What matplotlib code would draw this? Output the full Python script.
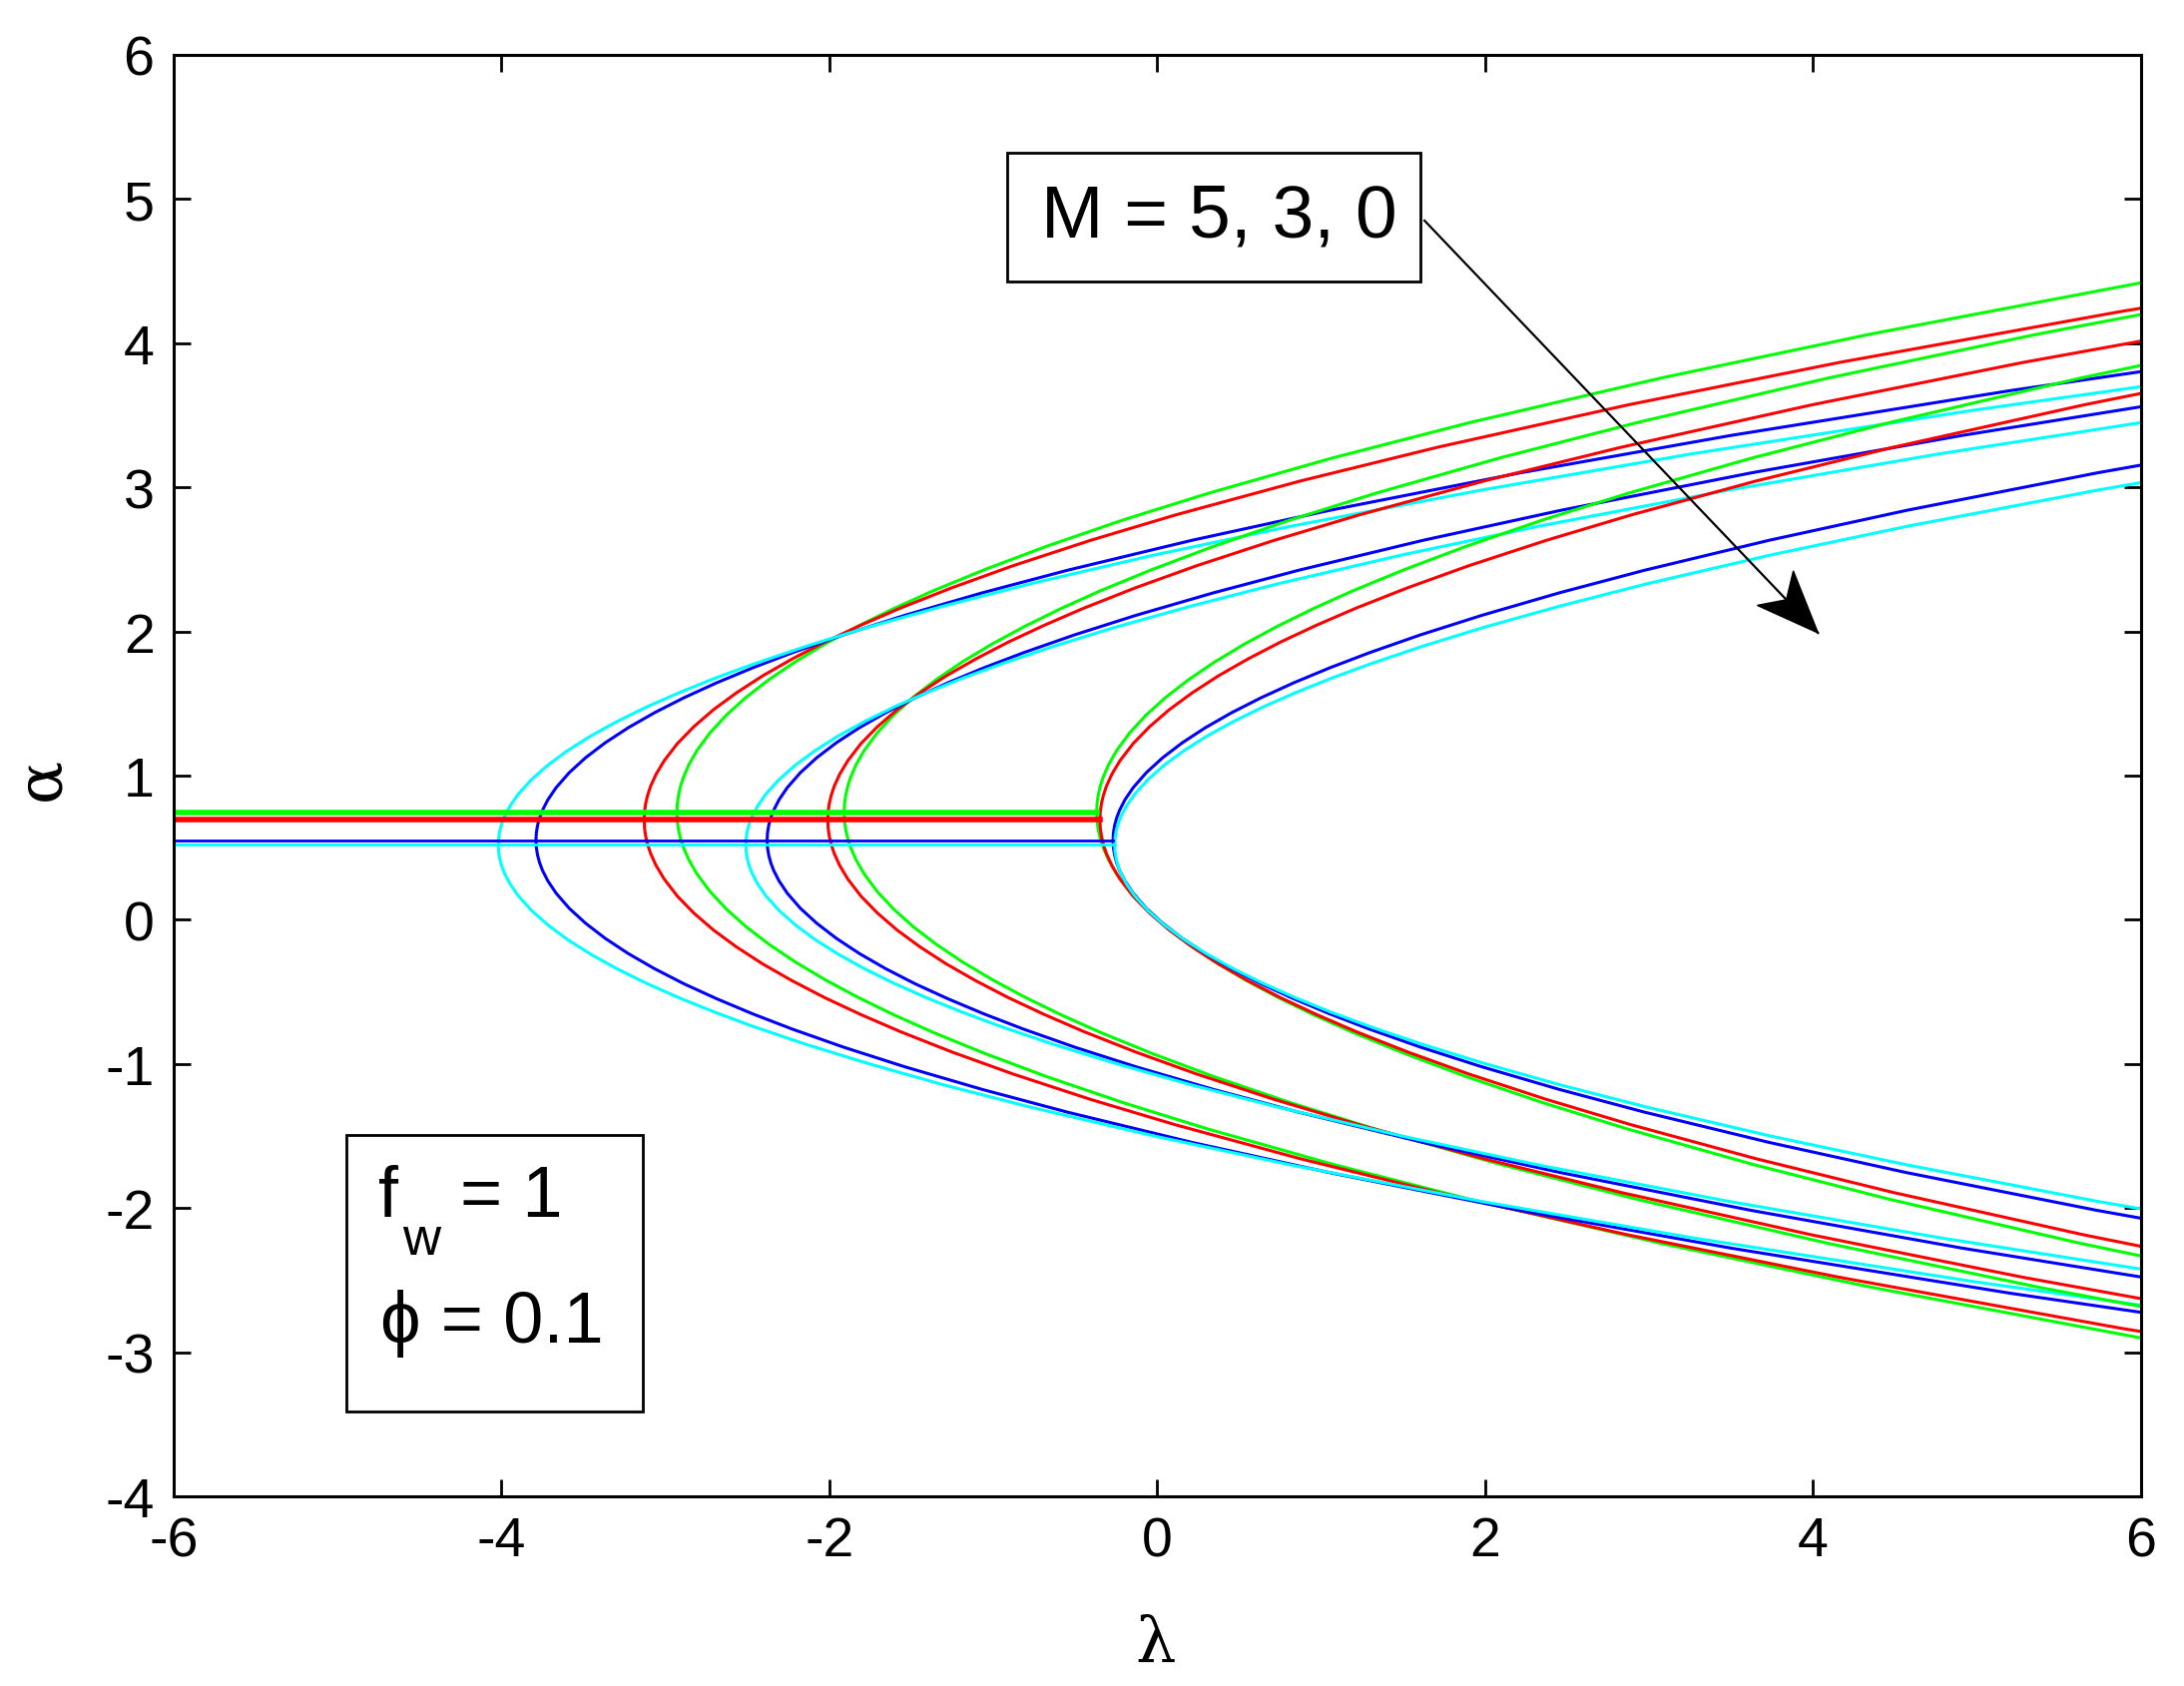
import matplotlib

matplotlib.use("Agg")
import matplotlib.pyplot as plt
import numpy as np
from matplotlib.patches import Polygon, Rectangle
from matplotlib.transforms import Affine2D, IdentityTransform

plt.rcParams["font.family"] = ["Liberation Sans", "DejaVu Sans"]
plt.rcParams["axes.unicode_minus"] = False

GREEN = "#00ff00"
RED = "#ff0000"
BLUE = "#0000ff"
CYAN = "#00ffff"

# distance in lambda from the turning point, shared by every curve
delta = [0, 0.0025, 0.01, 0.0225, 0.04, 0.0729, 0.1225, 0.2025, 0.3025, 0.4225,
         0.5625, 0.7225, 0.9025, 1.1025, 1.3225, 1.5625, 1.8769, 2.25, 2.7225, 3.24,
         4.0, 4.84, 6.0025, 7.29, 9.0, 10.89]

# alpha on the upper / lower branch at those distances, per colour
up_green = [0.744, 0.806, 0.867, 0.929, 0.990, 1.076, 1.175, 1.298, 1.421, 1.544,
            1.667, 1.790, 1.913, 2.036, 2.159, 2.282, 2.429, 2.589, 2.774, 2.958,
            3.204, 3.450, 3.758, 4.065, 4.434, 4.803]
lo_green = [0.744, 0.683, 0.622, 0.561, 0.500, 0.415, 0.317, 0.195, 0.073, -0.049,
            -0.171, -0.293, -0.415, -0.537, -0.659, -0.781, -0.927, -1.086, -1.269, -1.452,
            -1.696, -1.940, -2.245, -2.550, -2.916, -3.282]
up_red = [0.693, 0.752, 0.811, 0.869, 0.928, 1.010, 1.104, 1.222, 1.339, 1.457,
          1.574, 1.692, 1.809, 1.927, 2.044, 2.162, 2.303, 2.456, 2.632, 2.808,
          3.043, 3.278, 3.572, 3.866, 4.218, 4.571]
lo_red = [0.693, 0.634, 0.575, 0.517, 0.458, 0.376, 0.282, 0.164, 0.047, -0.071,
          -0.188, -0.306, -0.423, -0.541, -0.658, -0.776, -0.917, -1.070, -1.246, -1.422,
          -1.657, -1.892, -2.186, -2.480, -2.832, -3.185]
up_blue = [0.552, 0.604, 0.656, 0.708, 0.760, 0.833, 0.916, 1.020, 1.124, 1.228,
           1.332, 1.436, 1.540, 1.644, 1.748, 1.852, 1.977, 2.112, 2.268, 2.424,
           2.632, 2.840, 3.100, 3.360, 3.672, 3.984]
lo_blue = [0.552, 0.500, 0.447, 0.395, 0.342, 0.269, 0.185, 0.080, -0.024, -0.129,
           -0.234, -0.339, -0.444, -0.548, -0.653, -0.758, -0.884, -1.020, -1.177, -1.334,
           -1.544, -1.754, -2.016, -2.278, -2.592, -2.906]
up_cyan = [0.520, 0.570, 0.621, 0.671, 0.721, 0.791, 0.872, 0.972, 1.073, 1.173,
           1.274, 1.374, 1.475, 1.575, 1.676, 1.776, 1.897, 2.028, 2.178, 2.329,
           2.530, 2.731, 2.982, 3.234, 3.535, 3.837]
lo_cyan = [0.520, 0.469, 0.419, 0.368, 0.318, 0.247, 0.166, 0.065, -0.036, -0.137,
           -0.238, -0.339, -0.440, -0.541, -0.642, -0.743, -0.864, -0.995, -1.147, -1.298,
           -1.500, -1.702, -1.955, -2.207, -2.510, -2.813]

# turning point lambda for green, red, blue, cyan
turn_m5 = [-2.93, -3.13, -3.79, -4.02]
turn_m3 = [-1.91, -2.01, -2.38, -2.51]
turn_m0 = [-0.37, -0.35, -0.27, -0.26]

# flat lines on the left, one per colour, ending at the M = 0 turning point
flat_alpha = [0.744, 0.693, 0.552, 0.520]
flat_width = [2.0, 2.0, 1.0, 1.0]


def main() -> None:
    fig = plt.figure(figsize=(10.94, 8.45), dpi=200)
    ax = fig.add_axes([0.0795, 0.1124, 0.9008, 0.8545])
    ax.set_xlim(-6, 6)
    ax.set_ylim(-4, 6)

    colors = [GREEN, RED, BLUE, CYAN]
    branches = [(up_green, lo_green), (up_red, lo_red), (up_blue, lo_blue), (up_cyan, lo_cyan)]
    xs = delta[::-1] + delta[1:]
    for turns in (turn_m5, turn_m3, turn_m0):
        for color, (up, lo), turn in zip(colors, branches, turns):
            shift = Affine2D().translate(turn, 0) + ax.transData
            ax.plot(xs, lo[::-1] + up[1:], color=color, lw=1.1, transform=shift)

    for color, a, end, w in zip(colors, flat_alpha, turn_m0, flat_width):
        ax.plot([-6, end], [a, a], color=color, lw=w)

    ax.set_xticks(range(-6, 7, 2))
    ax.set_yticks(range(-4, 7))
    ax.tick_params(direction="in", top=True, right=True, length=6, width=1.0,
                   labelsize=20, pad=7)
    for spine in ax.spines.values():
        spine.set_linewidth(1.1)

    fig.text(0.529, 0.0254, "λ", fontsize=23, family="DejaVu Serif", ha="center", va="center")
    fig.text(0.0192, 0.538, "α", fontsize=23, family="DejaVu Serif", ha="center", va="center",
             rotation=90)

    # M annotation with arrow
    ax.add_patch(Rectangle((-0.916, 4.428), 2.52, 0.893, facecolor="white",
                           edgecolor="black", lw=1.0, zorder=5))
    ax.text(-0.709, 4.744, "M = 5, 3, 0", fontsize=27, ha="left", va="baseline", zorder=6)

    start, tip = (1.63, 4.85), (4.03, 1.99)
    p0 = ax.transData.transform(start)
    p1 = ax.transData.transform(tip)
    d = (p1 - p0) / np.hypot(*(p1 - p0))
    n = np.array([-d[1], d[0]])
    head_len, head_half = 62, 25
    notch = p1 - 0.74 * head_len * d
    ax.plot([start[0], tip[0]], [start[1], tip[1]], color="black", lw=0.8, zorder=6)
    head = [p1, p1 - head_len * d + head_half * n, notch, p1 - head_len * d - head_half * n]
    ax.add_patch(Polygon(head, closed=True, facecolor="black", edgecolor="black",
                         lw=0.5, transform=IdentityTransform(), zorder=7))

    # parameter box
    ax.add_patch(Rectangle((-4.947, -3.411), 1.809, 1.918, facecolor="white",
                           edgecolor="black", lw=1.0, zorder=5))
    ax.text(-4.75, -2.056, "f", fontsize=26, ha="left", va="baseline", zorder=6)
    ax.text(-4.606, -2.315, "w", fontsize=19, ha="left", va="baseline", zorder=6)
    ax.text(-4.25, -2.056, "= 1", fontsize=26, ha="left", va="baseline", zorder=6)
    ax.text(-4.74, -2.927, "ϕ = 0.1", fontsize=26, ha="left", va="baseline", zorder=6)

    fig.savefig("out.png", dpi=200)
    plt.close(fig)


if __name__ == "__main__":
    main()
